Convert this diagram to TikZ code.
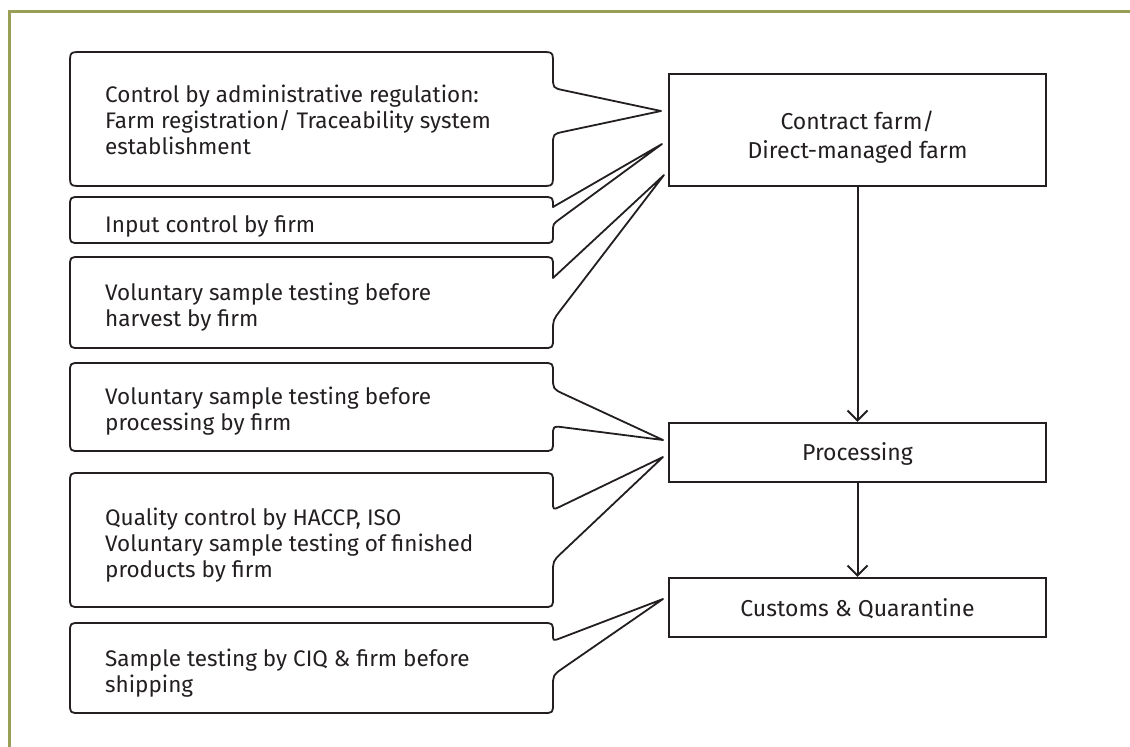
\documentclass[tikz,border=0pt]{standalone}
\usepackage{fontspec}
\setmainfont{Fira Sans}
\usetikzlibrary{arrows.meta,calc}
\definecolor{framecol}{HTML}{9A9F58}
\definecolor{ink}{HTML}{231F20}
\begin{document}
\begin{tikzpicture}[x=1pt,y=-1pt,
  callout/.style={draw=ink,line width=1.8pt,line join=round},
  fil/.style n args={4}{insert path={-- ($#2!#4!#1$) .. controls #2 .. ($#2!#4!#3$)}},
  lbl/.style={anchor=west,align=left,text=ink,font=\fontsize{22.5}{26}\selectfont,inner sep=0pt},
  stage/.style={draw=ink,line width=2.2pt,minimum width=377pt,inner sep=0pt},
  stagetext/.style={text=ink,font=\fontsize{23}{29}\selectfont,align=center,inner sep=0pt},
  flow/.style={draw=ink,line width=2pt,-{Straight Barb[length=10pt,width=20pt,line width=2pt]}}
]
\useasboundingbox (0,0) rectangle (1130,747);
% frame
\draw[framecol,line width=3pt] (9.5,747) -- (9.5,11) -- (1130,11);

% stages
\node[stage,minimum height=112pt] (farm) at (857.5,130) {};
\node[stagetext] (farmtxt) at (857.5,137) {Contract farm/\\Direct-managed farm};
\node[stage,minimum height=59pt] (proc) at (857.5,452.5) {};
\node[stagetext] (proctxt) at (857.5,454) {Processing};
\node[stage,minimum height=59pt] (cust) at (857.5,607.5) {};
\node[stagetext] (custtxt) at (857.5,609) {Customs \& Quarantine};
\draw[flow] (farm) -- (proc);
\draw[flow] (proc) -- (cust);

% callout 1
\draw[callout] (82,52) [fil={(70,52)}{(553,52)}{(553,88)}{12pt}] [fil={(553,52)}{(553,88)}{(661,111)}{11pt}] -- (661,111)
  [fil={(661,111)}{(553,134)}{(553,186)}{11pt}] [fil={(553,134)}{(553,186)}{(70,186)}{12pt}]
  [fil={(553,186)}{(70,186)}{(70,52)}{12pt}] [fil={(70,186)}{(70,52)}{(553,52)}{12pt}] -- cycle;
% callout 2
\draw[callout] (80,197) [fil={(70,197)}{(553,197)}{(553,243)}{10pt}] -- (662,144)
  [fil={(662,144)}{(553,224)}{(553,243)}{8pt}] [fil={(553,224)}{(553,243)}{(70,243)}{9pt}]
  [fil={(553,243)}{(70,243)}{(70,197)}{10pt}] [fil={(70,243)}{(70,197)}{(553,197)}{10pt}] -- cycle;
% callout 3
\draw[callout] (80,257) [fil={(70,257)}{(553,257)}{(553,348)}{10pt}] -- (553,278) -- (664,175)
  [fil={(664,175)}{(553,320)}{(553,348)}{12pt}] [fil={(553,320)}{(553,348)}{(70,348)}{10pt}]
  [fil={(553,348)}{(70,348)}{(70,257)}{10pt}] [fil={(70,348)}{(70,257)}{(553,257)}{10pt}] -- cycle;
% callout 4
\draw[callout] (80,363) [fil={(70,363)}{(553,363)}{(553,389)}{10pt}] [fil={(553,363)}{(553,389)}{(663,440)}{12pt}] -- (663,440)
  [fil={(663,440)}{(553,426)}{(553,451)}{10pt}] [fil={(553,426)}{(553,451)}{(70,451)}{10pt}]
  [fil={(553,451)}{(70,451)}{(70,363)}{10pt}] [fil={(70,451)}{(70,363)}{(553,363)}{10pt}] -- cycle;
% callout 5
\draw[callout] (80,473) [fil={(70,473)}{(553,473)}{(553,510)}{10pt}] [fil={(553,473)}{(553,510)}{(663,457)}{8pt}] -- (663,457)
  [fil={(663,457)}{(553,561)}{(553,607)}{12pt}] [fil={(553,561)}{(553,607)}{(70,607)}{10pt}]
  [fil={(553,607)}{(70,607)}{(70,473)}{10pt}] [fil={(70,607)}{(70,473)}{(553,473)}{10pt}] -- cycle;
% callout 6
\draw[callout] (80,623) [fil={(70,623)}{(553,623)}{(553,641)}{10pt}] [fil={(553,623)}{(553,641)}{(663,599)}{7pt}] -- (663,599)
  [fil={(663,599)}{(553,675)}{(553,713)}{12pt}] [fil={(553,675)}{(553,713)}{(70,713)}{10pt}]
  [fil={(553,713)}{(70,713)}{(70,623)}{10pt}] [fil={(70,713)}{(70,623)}{(553,623)}{10pt}] -- cycle;

% callout texts
\node[lbl] (t1) at (105,120) {Control by administrative regulation:\\Farm registration/ Traceability system\\establishment};
\node[lbl] (t2) at (105,226) {Input control by firm};
\node[lbl] (t3) at (105,307) {Voluntary sample testing before\\harvest by firm};
\node[lbl] (t4) at (105,411) {Voluntary sample testing before\\processing by firm};
\node[lbl] (t5) at (105,545) {Quality control by HACCP, ISO\\Voluntary sample testing of finished\\products by firm};
\node[lbl] (t6) at (105,673) {Sample testing by CIQ \& firm before\\shipping};
\end{tikzpicture}
\end{document}
